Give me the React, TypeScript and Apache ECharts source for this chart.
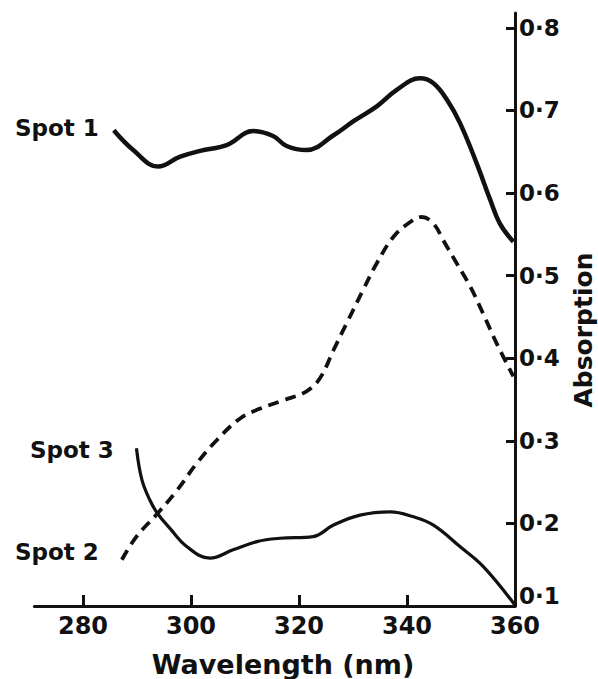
import React, { useEffect, useRef } from "react";
import * as echarts from "echarts";

// Wavelength (nm) / Absorption pairs
const spot1Wavelength = [285.7, 289.3, 293.9, 298.0, 301.7, 306.6, 311.5, 315.2, 317.7, 321.4, 326.4, 330.1, 334.4, 338.1, 342.4, 344.9, 347.4, 349.8, 352.9, 355.4, 357.2, 359.7];
const spot1Absorption = [0.676, 0.652, 0.632, 0.644, 0.651, 0.658, 0.675, 0.669, 0.657, 0.652, 0.670, 0.687, 0.705, 0.725, 0.739, 0.733, 0.713, 0.685, 0.636, 0.592, 0.563, 0.541];

const spot2Wavelength = [287.2, 289.9, 293.8, 297.4, 301.1, 304.8, 309.1, 312.8, 317.1, 321.4, 323.9, 326.4, 328.8, 331.9, 334.4, 337.5, 340.6, 342.7, 344.9, 346.7, 349.2, 351.7, 354.1, 356.6, 359.7];
const spot2Absorption = [0.156, 0.184, 0.212, 0.240, 0.273, 0.301, 0.327, 0.339, 0.349, 0.360, 0.376, 0.410, 0.442, 0.483, 0.515, 0.547, 0.565, 0.571, 0.563, 0.543, 0.515, 0.487, 0.454, 0.418, 0.378];

const spot3Wavelength = [289.9, 290.9, 292.4, 293.8, 296.1, 299.2, 303.5, 307.8, 312.2, 316.5, 322.6, 326.4, 331.3, 336.9, 341.2, 344.9, 349.8, 354.1, 360.0];
const spot3Absorption = [0.291, 0.253, 0.228, 0.212, 0.194, 0.172, 0.158, 0.168, 0.178, 0.182, 0.184, 0.198, 0.210, 0.214, 0.208, 0.198, 0.172, 0.148, 0.101];

const xTicks = [280, 300, 320, 340, 360];
const yTicks = [0.1, 0.2, 0.3, 0.4, 0.5, 0.6, 0.7, 0.8];

const seriesLabels = ["Spot 1", "Spot 2", "Spot 3"];

const INK = "#111111";
const FONT = "DejaVu Sans";

function pairs(xs: number[], ys: number[]) {
  return xs.map((x, i) => [x, ys[i]]);
}

export default function App() {
  const ref = useRef<HTMLDivElement>(null);

  useEffect(() => {
    if (!ref.current) return;
    const chart = echarts.init(ref.current, null, { renderer: "svg" });
    const labelStyle = { fontFamily: FONT, fontWeight: "bold" as const, fontSize: 23, fill: INK };
    chart.setOption({
      animation: false,
      backgroundColor: "#ffffff",
      grid: { left: 34.4, right: 83, top: 13, bottom: 73 },
      xAxis: {
        type: "value",
        min: 271,
        max: 360,
        axisLine: { show: true, onZero: false, lineStyle: { color: INK, width: 3 } },
        axisTick: { show: true, inside: true, length: 11, customValues: xTicks, lineStyle: { color: INK, width: 3 } },
        axisLabel: {
          show: true,
          customValues: xTicks,
          margin: 8,
          color: INK,
          fontFamily: FONT,
          fontWeight: "bold",
          fontSize: 24,
        },
        splitLine: { show: false },
      },
      yAxis: {
        type: "value",
        position: "right",
        min: 0.1,
        max: 0.818,
        axisLine: { show: true, onZero: false, lineStyle: { color: INK, width: 3 } },
        axisTick: { show: true, inside: true, length: 9, customValues: yTicks, lineStyle: { color: INK, width: 3 } },
        axisLabel: {
          show: true,
          customValues: yTicks,
          margin: 4,
          color: INK,
          fontFamily: FONT,
          fontWeight: "bold",
          fontSize: 23,
          formatter: (v: number) => {
            const t = v.toFixed(1).replace(".", "\u00b7");
            return v < 0.15 ? "{low|" + t + "}" : t;
          },
          rich: {
            low: { padding: [0, 0, 20, 0], color: INK, fontFamily: FONT, fontWeight: "bold", fontSize: 23 },
          },
        },
        splitLine: { show: false },
      },
      series: [
        {
          name: seriesLabels[0],
          type: "line",
          data: pairs(spot1Wavelength, spot1Absorption),
          symbol: "none",
          smooth: 0.4,
          lineStyle: { color: INK, width: 4.5 },
        },
        {
          name: seriesLabels[1],
          type: "line",
          data: pairs(spot2Wavelength, spot2Absorption),
          symbol: "none",
          smooth: 0.4,
          lineStyle: { color: INK, width: 3.8, type: [11, 7] },
        },
        {
          name: seriesLabels[2],
          type: "line",
          data: pairs(spot3Wavelength, spot3Absorption),
          symbol: "none",
          smooth: 0.4,
          lineStyle: { color: INK, width: 3.2 },
        },
      ],
      graphic: [
        { type: "text", left: 15, top: 116, style: { ...labelStyle, text: seriesLabels[0] } },
        { type: "text", left: 30, top: 438, style: { ...labelStyle, text: seriesLabels[2] } },
        { type: "text", left: 15, top: 540, style: { ...labelStyle, text: seriesLabels[1] } },
        {
          type: "text",
          x: 283,
          y: 664,
          style: { fontFamily: FONT, fontWeight: "bold", fontSize: 27, fill: INK, text: "Wavelength (nm)", align: "center", verticalAlign: "middle" },
        },
        {
          type: "text",
          x: 583,
          y: 330,
          rotation: Math.PI / 2,
          style: { fontFamily: FONT, fontWeight: "bold", fontSize: 25, fill: INK, text: "Absorption", align: "center", verticalAlign: "middle" },
        },
      ],
    });
    return () => chart.dispose();
  }, []);

  return <div ref={ref} style={{ position: "fixed", left: 0, top: 0, width: 598, height: 679 }} />;
}
